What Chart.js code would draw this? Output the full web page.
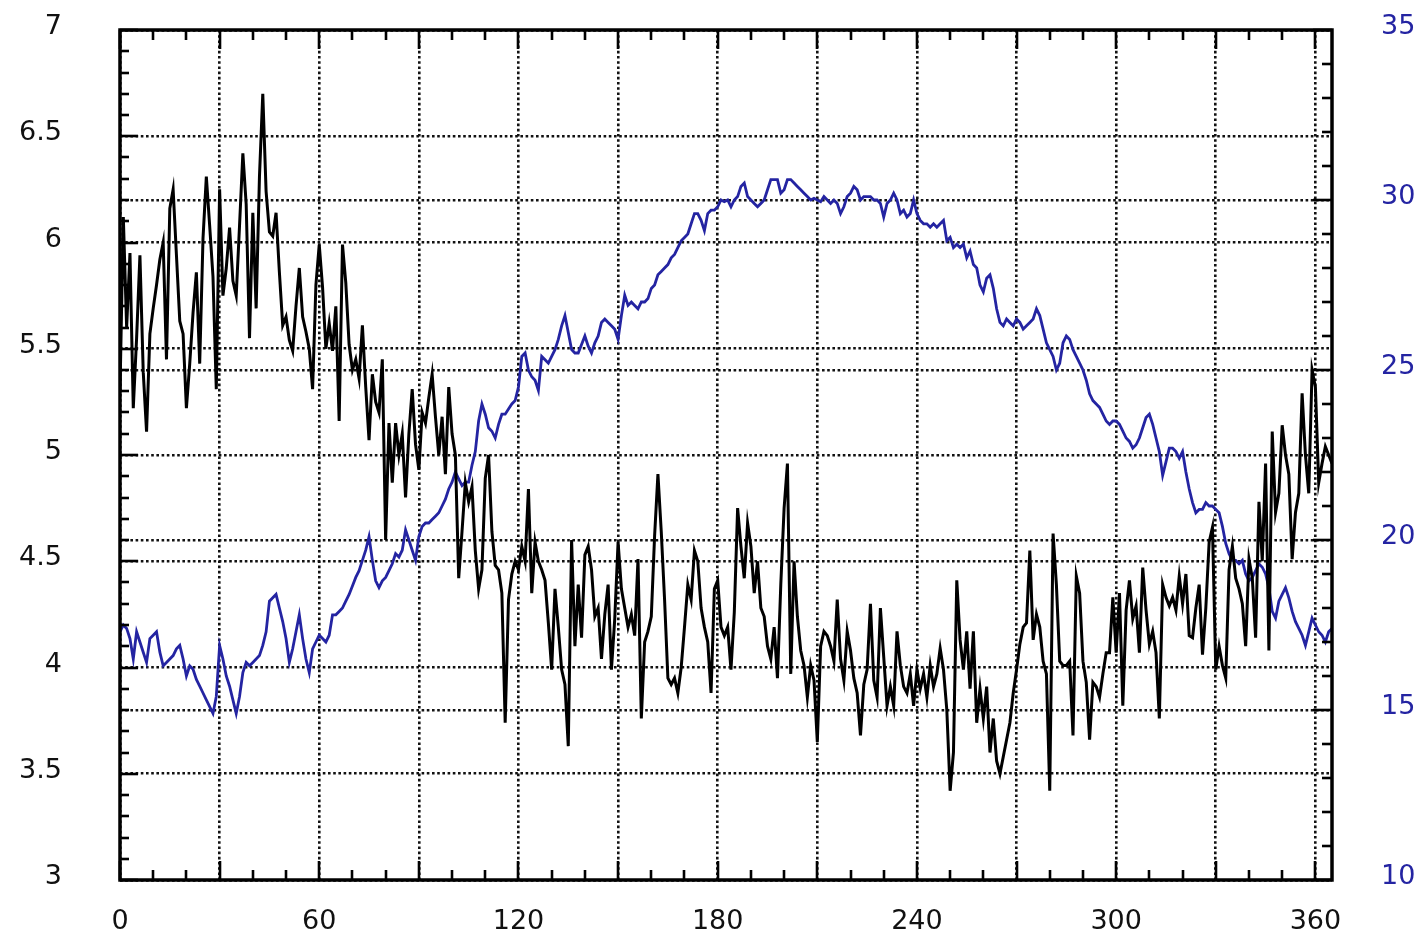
<!DOCTYPE html>
<html>
<head>
<meta charset="utf-8">
<script src="https://cdn.jsdelivr.net/npm/chart.js@4"></script>
<style>
  html, body { margin: 0; padding: 0; background: #fff; }
  canvas { display: block; }
</style>
</head>
<body>
<canvas id="canvas" width="1420" height="940"></canvas>
<script>
// day of year, 0..365
const days = Array.from({ length: 366 }, (_, i) => i);

// black series, left axis
const blackValues = [
  5.30, 6.12, 5.60, 5.95, 5.22, 5.55, 5.94, 5.39, 5.11, 5.57,
  5.69, 5.80, 5.92, 6.00, 5.45, 6.16, 6.25, 5.94, 5.63, 5.57,
  5.22, 5.43, 5.67, 5.86, 5.43, 6.02, 6.31, 6.08, 5.84, 5.31,
  6.25, 5.75, 5.88, 6.07, 5.82, 5.75, 6.08, 6.42, 6.18, 5.55,
  6.14, 5.69, 6.31, 6.70, 6.24, 6.05, 6.03, 6.14, 5.86, 5.61,
  5.65, 5.54, 5.49, 5.70, 5.88, 5.65, 5.58, 5.50, 5.31, 5.80,
  5.99, 5.79, 5.50, 5.62, 5.49, 5.70, 5.16, 5.99, 5.81, 5.52,
  5.40, 5.45, 5.36, 5.61, 5.32, 5.07, 5.38, 5.25, 5.20, 5.45,
  4.60, 5.15, 4.87, 5.15, 5.00, 5.10, 4.80, 5.10, 5.31, 5.05,
  4.93, 5.20, 5.15, 5.27, 5.38, 5.18, 5.00, 5.18, 4.91, 5.32,
  5.10, 5.00, 4.42, 4.64, 4.87, 4.78, 4.85, 4.55, 4.37, 4.46,
  4.89, 5.00, 4.64, 4.48, 4.46, 4.35, 3.74, 4.32, 4.44, 4.50,
  4.46, 4.57, 4.50, 4.84, 4.35, 4.59, 4.50, 4.46, 4.41, 4.21,
  3.99, 4.37, 4.19, 3.99, 3.92, 3.63, 4.60, 4.10, 4.39, 4.14,
  4.53, 4.57, 4.46, 4.24, 4.28, 4.04, 4.25, 4.39, 3.99, 4.23,
  4.59, 4.37, 4.28, 4.19, 4.25, 4.15, 4.51, 3.76, 4.12, 4.17,
  4.24, 4.62, 4.91, 4.64, 4.32, 3.95, 3.92, 3.95, 3.88, 4.00,
  4.19, 4.39, 4.32, 4.55, 4.50, 4.28, 4.19, 4.12, 3.88, 4.37,
  4.41, 4.19, 4.15, 4.19, 3.99, 4.26, 4.75, 4.57, 4.42, 4.68,
  4.57, 4.35, 4.50, 4.28, 4.24, 4.10, 4.04, 4.19, 3.95, 4.39,
  4.75, 4.96, 3.97, 4.50, 4.24, 4.08, 4.01, 3.86, 4.01, 3.94,
  3.65, 4.10, 4.17, 4.15, 4.10, 4.03, 4.32, 4.04, 3.94, 4.17,
  4.08, 3.95, 3.88, 3.68, 3.92, 3.99, 4.30, 3.94, 3.86, 4.28,
  4.05, 3.82, 3.91, 3.82, 4.17, 4.01, 3.91, 3.88, 3.97, 3.82,
  3.99, 3.90, 3.97, 3.86, 4.01, 3.91, 3.97, 4.09, 3.99, 3.80,
  3.42, 3.60, 4.41, 4.13, 3.99, 4.17, 3.90, 4.17, 3.74, 3.90,
  3.76, 3.91, 3.60, 3.76, 3.56, 3.50, 3.58, 3.66, 3.74, 3.88,
  3.99, 4.11, 4.19, 4.21, 4.55, 4.13, 4.25, 4.19, 4.03, 3.97,
  3.42, 4.63, 4.39, 4.03, 4.01, 4.01, 4.03, 3.68, 4.43, 4.35,
  4.03, 3.93, 3.66, 3.93, 3.91, 3.86, 3.97, 4.07, 4.07, 4.33,
  4.07, 4.35, 3.82, 4.27, 4.41, 4.23, 4.29, 4.07, 4.47, 4.27,
  4.11, 4.17, 4.07, 3.76, 4.39, 4.33, 4.29, 4.33, 4.27, 4.43,
  4.30, 4.44, 4.15, 4.14, 4.28, 4.39, 4.06, 4.28, 4.59, 4.66,
  3.99, 4.10, 4.01, 3.95, 4.46, 4.57, 4.42, 4.37, 4.30, 4.10,
  4.51, 4.42, 4.14, 4.78, 4.50, 4.96, 4.08, 5.11, 4.73, 4.82,
  5.14, 5.00, 4.91, 4.51, 4.73, 4.82, 5.29, 5.00, 4.82, 5.40,
  5.32, 4.87, 4.96, 5.04, 5.00, 4.96
];

// blue series, right axis
const blueValues = [
  17.3, 17.5, 17.4, 17.1, 16.5, 17.3, 17.0, 16.7, 16.4, 17.1,
  17.2, 17.3, 16.7, 16.3, 16.4, 16.5, 16.6, 16.8, 16.9, 16.5,
  16.0, 16.3, 16.2, 15.9, 15.7, 15.5, 15.3, 15.1, 14.9, 15.4,
  16.9, 16.5, 16.0, 15.7, 15.3, 14.9, 15.4, 16.1, 16.4, 16.3,
  16.4, 16.5, 16.6, 16.9, 17.3, 18.2, 18.3, 18.4, 18.0, 17.6,
  17.1, 16.4, 16.8, 17.3, 17.8, 17.1, 16.5, 16.1, 16.8, 17.0,
  17.2, 17.1, 17.0, 17.2, 17.8, 17.8, 17.9, 18.0, 18.2, 18.4,
  18.65, 18.9, 19.1, 19.4, 19.7, 20.1, 19.4, 18.8, 18.6, 18.8,
  18.9, 19.1, 19.3, 19.6, 19.5, 19.7, 20.3, 20.0, 19.7, 19.4,
  20.1, 20.4, 20.5, 20.5, 20.6, 20.7, 20.8, 21.0, 21.2, 21.5,
  21.7, 22.0, 21.8, 21.6, 21.7, 21.7, 22.2, 22.6, 23.5, 24.0,
  23.7, 23.3, 23.2, 23.0, 23.4, 23.7, 23.7, 23.85, 24.0, 24.1,
  24.5, 25.4, 25.5, 25.0, 24.8, 24.7, 24.4, 25.4, 25.3, 25.2,
  25.4, 25.6, 25.9, 26.3, 26.6, 26.1, 25.6, 25.5, 25.5, 25.75,
  26.0, 25.7, 25.5, 25.8, 26.0, 26.4, 26.5, 26.4, 26.3, 26.2,
  25.9, 26.6, 27.2, 26.9, 27.0, 26.9, 26.8, 27.0, 27.0, 27.1,
  27.4, 27.5, 27.8, 27.9, 28.0, 28.1, 28.3, 28.4, 28.6, 28.8,
  28.9, 29.0, 29.3, 29.6, 29.6, 29.4, 29.1, 29.6, 29.7, 29.7,
  29.8, 30.0, 29.95, 30.0, 29.8, 30.0, 30.1, 30.4, 30.5, 30.1,
  30.0, 29.9, 29.8, 29.9, 30.0, 30.3, 30.6, 30.6, 30.6, 30.2,
  30.3, 30.6, 30.6, 30.5, 30.4, 30.3, 30.2, 30.1, 30.0, 30.05,
  30.0, 29.95, 30.1, 30.0, 29.9, 30.0, 29.9, 29.6, 29.8, 30.1,
  30.2, 30.4, 30.3, 30.0, 30.1, 30.1, 30.1, 30.0, 30.0, 29.9,
  29.5, 29.9, 30.0, 30.2, 30.0, 29.6, 29.7, 29.5, 29.6, 30.0,
  29.6, 29.4, 29.3, 29.3, 29.2, 29.3, 29.2, 29.3, 29.4, 28.8,
  28.9, 28.6, 28.7, 28.6, 28.7, 28.3, 28.5, 28.1, 28.0, 27.5,
  27.3, 27.7, 27.8, 27.4, 26.8, 26.4, 26.3, 26.5, 26.4, 26.3,
  26.5, 26.4, 26.2, 26.3, 26.4, 26.5, 26.8, 26.6, 26.2, 25.8,
  25.6, 25.4, 25.0, 25.2, 25.8, 26.0, 25.9, 25.6, 25.4, 25.2,
  25.0, 24.7, 24.3, 24.1, 24.0, 23.9, 23.7, 23.5, 23.4, 23.5,
  23.5, 23.4, 23.2, 23.0, 22.9, 22.7, 22.8, 23.0, 23.3, 23.6,
  23.7, 23.4, 23.0, 22.6, 21.9, 22.3, 22.7, 22.7, 22.6, 22.4,
  22.6, 22.0, 21.5, 21.1, 20.8, 20.9, 20.9, 21.1, 21.0, 21.0,
  20.9, 20.8, 20.4, 19.9, 19.6, 19.4, 19.4, 19.3, 19.4, 19.0,
  18.8, 18.9, 19.1, 19.3, 19.2, 19.0, 18.6, 17.9, 17.7, 18.2,
  18.4, 18.6, 18.3, 17.9, 17.6, 17.4, 17.2, 16.9, 17.3, 17.7,
  17.5, 17.3, 17.2, 17.0, 17.3, 17.4
];

// axis ticks
const xGridDays = [0, 30, 60, 90, 120, 150, 180, 210, 240, 270, 300, 330, 360];
const leftTicks = [3, 3.5, 4, 4.5, 5, 5.5, 6, 6.5, 7];
const rightTicks = [10, 15, 20, 25, 30, 35];

const BLUE = "#2424a2";
const FONT = { family: "'DejaVu Sans', sans-serif", size: 27 };
const DOTS = { display: false, dash: [2.6, 2.6] };
// outer tick marks are invisible, their length only pushes the labels away
const grid = (gap) => ({ color: "#111", lineWidth: 2.6, drawTicks: true, tickLength: gap, tickColor: "rgba(0,0,0,0)" });

// inward tick marks + frame
const frameTicks = {
  id: "frameTicks",
  afterDraw(chart) {
    const { ctx, chartArea: a, scales } = chart;
    const line = (x1, y1, x2, y2) => {
      ctx.beginPath();
      ctx.moveTo(x1, y1);
      ctx.lineTo(x2, y2);
      ctx.stroke();
    };
    ctx.save();
    ctx.strokeStyle = "#000";
    ctx.lineWidth = 2.6;
    for (let d = 0; d <= 360; d += 10) {
      const x = Math.round(scales.x.getPixelForValue(d));
      const len = d % 30 === 0 ? 19 : 10;
      line(x, a.bottom, x, a.bottom - len);
      line(x, a.top, x, a.top + len);
    }
    for (let i = 30; i <= 70; i++) {
      const y = Math.round(scales.y.getPixelForValue(i / 10));
      line(a.left, y, a.left + (i % 5 === 0 ? 18 : 9), y);
    }
    for (let v = 10; v <= 35; v++) {
      const y = Math.round(scales.y2.getPixelForValue(v));
      line(a.right, y, a.right - (v % 5 === 0 ? 19 : 10), y);
    }
    ctx.lineWidth = 3.5;
    ctx.strokeRect(a.left, a.top, a.right - a.left, a.bottom - a.top);
    ctx.restore();
  },
};

const config = {
  type: "line",
  data: {
    labels: days,
    datasets: [
      {
        label: "black",
        data: blackValues,
        yAxisID: "y",
        borderColor: "#000",
        borderWidth: 3,
        pointRadius: 0,
        tension: 0,
      },
      {
        label: "blue",
        data: blueValues,
        yAxisID: "y2",
        borderColor: BLUE,
        borderWidth: 2.8,
        pointRadius: 0,
        tension: 0,
      },
    ],
  },
  options: {
    responsive: false,
    animation: false,
    layout: { padding: { top: 30, left: 0, right: 0, bottom: 0 } },
    plugins: { legend: { display: false }, tooltip: { enabled: false } },
    scales: {
      x: {
        type: "linear",
        min: 0,
        max: 365,
        grid: grid(26),
        border: DOTS,
        afterBuildTicks: (s) => { s.ticks = xGridDays.map((v) => ({ value: v })); },
        afterFit: (s) => { s.height = 60; },
        ticks: {
          autoSkip: false,
          maxRotation: 0,
          padding: 0,
          color: "#111",
          font: FONT,
          callback: (v) => (v % 60 === 0 ? String(v) : ""),
        },
      },
      y: {
        position: "left",
        min: 3,
        max: 7,
        grid: grid(58),
        border: DOTS,
        afterBuildTicks: (s) => { s.ticks = leftTicks.map((v) => ({ value: v })); },
        afterFit: (s) => { s.width = 120; },
        ticks: { padding: 0, labelOffset: -3, color: "#111", font: FONT, callback: (v) => String(v) },
      },
      y2: {
        position: "right",
        min: 10,
        max: 35,
        grid: grid(49),
        border: DOTS,
        afterBuildTicks: (s) => { s.ticks = rightTicks.map((v) => ({ value: v })); },
        afterFit: (s) => { s.width = 88; },
        ticks: { padding: 0, labelOffset: -3, color: BLUE, font: FONT, callback: (v) => String(v) },
      },
    },
  },
  plugins: [frameTicks],
};

const canvas = document.getElementById("canvas");
const chart = new Chart(canvas, config);
</script>
</body>
</html>
